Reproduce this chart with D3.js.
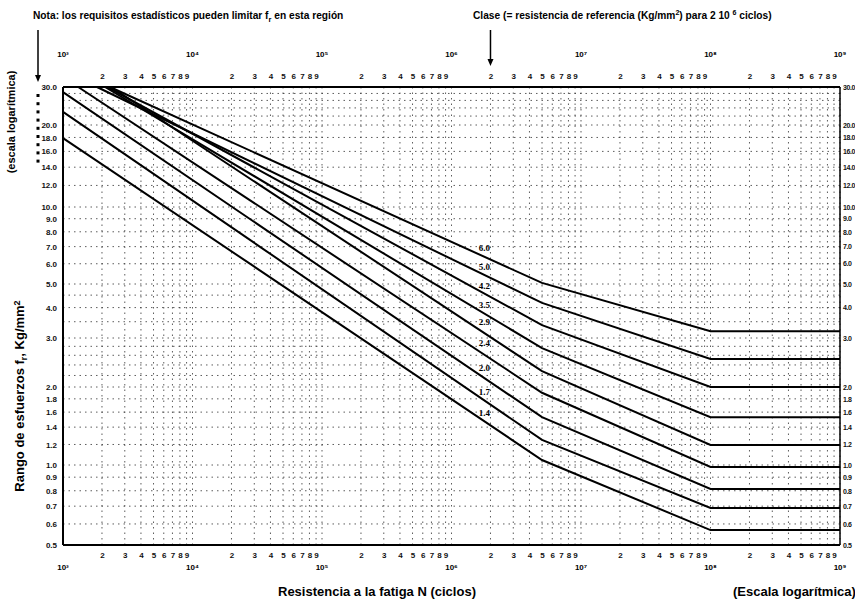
<!DOCTYPE html>
<html>
<head>
<meta charset="utf-8">
<script src="https://cdn.jsdelivr.net/npm/d3@7"></script>
<style>
  body { margin: 0; background: #fff; }
  svg { display: block; font-family: "Liberation Sans Narrow", "Liberation Sans", Arial, sans-serif; font-weight: bold; }
  .grid line { stroke: #333; stroke-width: 0.8; stroke-dasharray: 1.5,4; }
  .tick text { font-size: 8px; fill: #111; }
  .right .tick text { font-size: 7px; letter-spacing: -0.4px; }
</style>
</head>
<body>
<svg width="855" height="604"></svg>
<script>
// class of each curve (Kg/mm2 at 2 10^6 cycles)
const classes = [6.0, 5.0, 4.2, 3.5, 2.9, 2.4, 2.0, 1.7, 1.4];
// where each curve enters the frame
const startN = [2300, 1830, 2190, 2110, 2350, 1310, 1000, 1000, 1000];
const startS = [30, 30, 30, 30, 30, 30, 28.4, 23.0, 17.9];
// slope change at 5 10^6, cut-off at 10^8
const kneeN = 5e6, cutN = 1e8, endN = 1e9;
const kneeS = [5.05, 4.18, 3.39, 2.76, 2.28, 1.90, 1.53, 1.25, 1.045];
const cutS = [3.20, 2.52, 2.00, 1.53, 1.195, 0.983, 0.812, 0.689, 0.569];

const yTicks = [0.5, 0.6, 0.7, 0.8, 0.9, 1.0, 1.2, 1.4, 1.6, 1.8, 2.0, 3.0, 4.0, 5.0, 6.0, 7.0, 8.0, 9.0, 10.0, 12.0, 14.0, 16.0, 18.0, 20.0, 30.0];
const yGridExtra = [2.2, 2.4, 2.6, 2.8, 3.5, 4.5, 22, 24, 26, 28];
const decades = [1e3, 1e4, 1e5, 1e6, 1e7, 1e8, 1e9];
const decadeLabels = ["10³", "10⁴", "10⁵", "10⁶", "10⁷", "10⁸", "10⁹"];
const minorDigits = [2, 3, 4, 5, 6, 7, 8, 9];

const svg = d3.select("svg");
const x = d3.scaleLog().domain([1e3, 1e9]).range([63, 840]);
// the scanned stress axis is not quite uniform, so the log scale is piecewise
const y = d3.scaleLog()
  .domain([0.5, 1, 2, 3, 5, 10, 20, 30])
  .range([545, 465, 387, 338, 284, 207, 125, 87]);
const yTop = y(30), yBot = y(0.5), xLeft = x(1e3), xRight = x(1e9);

const minorN = [];
decades.slice(0, -1).forEach(function(d) {
  minorDigits.forEach(function(k) { minorN.push(d * k); });
});

// dotted grid
const grid = svg.append("g").attr("class", "grid");
grid.selectAll("line.v").data(minorN.concat(decades)).enter().append("line")
  .attr("class", "v")
  .attr("x1", d => x(d)).attr("x2", d => x(d))
  .attr("y1", yTop).attr("y2", yBot);
grid.selectAll("line.h").data(yTicks.concat(yGridExtra)).enter().append("line")
  .attr("class", "h")
  .attr("x1", xLeft).attr("x2", xRight)
  .attr("y1", d => y(d)).attr("y2", d => y(d));

// axes (digits and stress values)
const digitFmt = d => String(Math.round(d / Math.pow(10, Math.floor(Math.log10(d) + 1e-9))));
svg.append("g").attr("transform", "translate(0," + yTop + ")")
  .call(d3.axisTop(x).tickValues(minorN).tickFormat(digitFmt).tickSize(0).tickPadding(8));
svg.append("g").attr("transform", "translate(0," + yBot + ")")
  .call(d3.axisBottom(x).tickValues(minorN).tickFormat(digitFmt).tickSize(0).tickPadding(7));
svg.append("g").attr("transform", "translate(" + xLeft + ",0)")
  .call(d3.axisLeft(y).tickValues(yTicks).tickFormat(d3.format(".1f")).tickSize(0).tickPadding(6));
svg.append("g").attr("class", "right").attr("transform", "translate(" + xRight + ",0)")
  .call(d3.axisRight(y).tickValues(yTicks).tickFormat(d3.format(".1f")).tickSize(0).tickPadding(3));
svg.selectAll(".domain").remove();

// decade labels top and bottom
[57, 570].forEach(function(yy) {
  svg.append("g").selectAll("text").data(decades).enter().append("text")
    .attr("x", d => x(d)).attr("y", yy)
    .attr("text-anchor", "middle")
    .style("font-size", "8px")
    .text((d, i) => decadeLabels[i]);
});

// frame
const frame = svg.append("g").attr("stroke", "#000").attr("fill", "none");
frame.append("line").attr("x1", xLeft).attr("x2", xRight).attr("y1", yTop).attr("y2", yTop).attr("stroke-width", 2);
frame.append("line").attr("x1", xLeft).attr("x2", xRight).attr("y1", yBot).attr("y2", yBot).attr("stroke-width", 2);
frame.append("line").attr("x1", xLeft).attr("x2", xLeft).attr("y1", yTop).attr("y2", yBot).attr("stroke-width", 2);
frame.append("line").attr("x1", xRight).attr("x2", xRight).attr("y1", yTop).attr("y2", yBot).attr("stroke-width", 1.5);

// fatigue curves
const line = d3.line().x(d => x(d[0])).y(d => y(d[1]));
const curves = classes.map(function(c, i) {
  return [[startN[i], startS[i]], [kneeN, kneeS[i]], [cutN, cutS[i]], [endN, cutS[i]]];
});
svg.append("g").selectAll("path").data(curves).enter().append("path")
  .attr("d", line)
  .attr("fill", "none").attr("stroke", "#000").attr("stroke-width", 2);

// class labels sitting on each curve near 2 10^6
const refN = 2e6;
const labelX = x(refN) - 6;
function stressAt(i, n) {
  const t = (Math.log(n) - Math.log(startN[i])) / (Math.log(kneeN) - Math.log(startN[i]));
  return Math.exp(Math.log(startS[i]) + t * (Math.log(kneeS[i]) - Math.log(startS[i])));
}
svg.append("g").selectAll("text").data(classes).enter().append("text")
  .attr("x", labelX)
  .attr("y", (d, i) => y(stressAt(i, x.invert(labelX))) - 6)
  .attr("text-anchor", "middle")
  .style("font-size", "9px")
  .style("font-family", "'Liberation Serif', serif")
  .text(d => d.toFixed(1));

// arrows
function arrow(x0, y0, y1) {
  svg.append("line").attr("x1", x0).attr("x2", x0).attr("y1", y0).attr("y2", y1 - 5)
    .attr("stroke", "#000").attr("stroke-width", 1.5);
  svg.append("path").attr("d", "M" + (x0 - 3) + "," + (y1 - 7) + "L" + (x0 + 3) + "," + (y1 - 7) + "L" + x0 + "," + y1 + "Z")
    .attr("fill", "#000");
}
arrow(38, 30, 82);
arrow(x(refN), 30, 66);
svg.selectAll("rect.dot").data(d3.range(9)).enter().append("rect")
  .attr("class", "dot")
  .attr("x", 36.5).attr("y", d => 94 + d * 8.2)
  .attr("width", 3).attr("height", 3).attr("fill", "#000");

// titles
const nota = svg.append("text").attr("x", 33).attr("y", 19).style("font-size", "10.2px");
nota.append("tspan").text("Nota: los requisitos estadísticos pueden limitar f");
nota.append("tspan").attr("dy", 3).style("font-size", "7.5px").text("r");
nota.append("tspan").attr("dy", -3).text(" en esta región");

const clase = svg.append("text").attr("x", 473).attr("y", 19).style("font-size", "10.2px");
clase.append("tspan").text("Clase (= resistencia de referencia (Kg/mm");
clase.append("tspan").attr("dy", -4).style("font-size", "7px").text("2");
clase.append("tspan").attr("dy", 4).text(") para 2 10 ");
clase.append("tspan").attr("dy", -4).style("font-size", "7px").text("6");
clase.append("tspan").attr("dy", 4).text(" ciclos)");

svg.append("text").attr("x", 278).attr("y", 596).style("font-size", "13px")
  .text("Resistencia a la fatiga N (ciclos)");
svg.append("text").attr("x", 733).attr("y", 596).style("font-size", "13px")
  .text("(Escala logarítmica)");

svg.append("text").attr("transform", "translate(15,122) rotate(-90)")
  .attr("text-anchor", "middle").style("font-size", "11px")
  .text("(escala logarítmica)");
const rango = svg.append("text").attr("transform", "translate(24,396) rotate(-90)")
  .attr("text-anchor", "middle").style("font-size", "13px");
rango.append("tspan").text("Rango de esfuerzos f");
rango.append("tspan").attr("dy", 3).style("font-size", "9px").text("r");
rango.append("tspan").attr("dy", -3).text(", Kg/mm");
rango.append("tspan").attr("dy", -4).style("font-size", "9px").text("2");
</script>
</body>
</html>
